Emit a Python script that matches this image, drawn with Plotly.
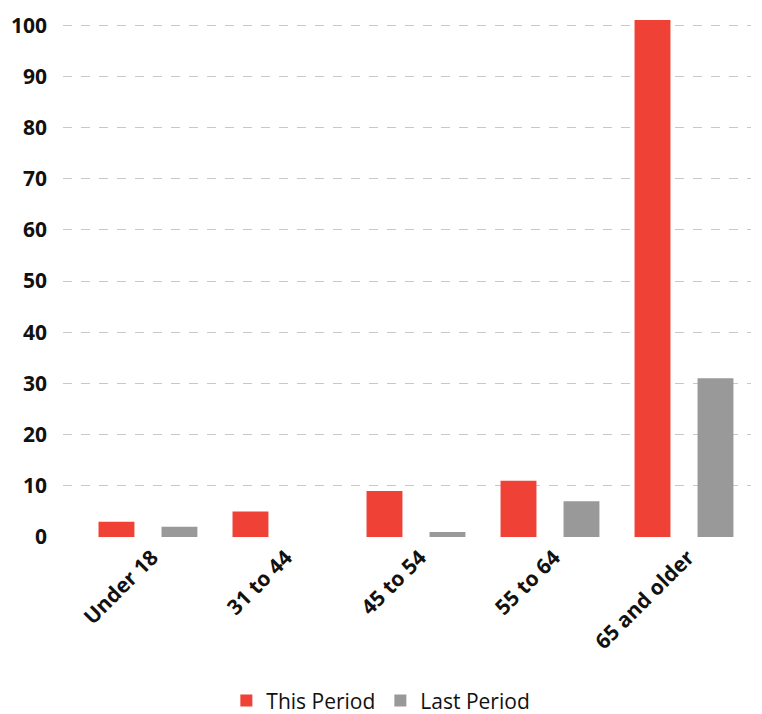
import plotly.graph_objects as go

categories = ["Under 18", "31 to 44", "45 to 54", "55 to 64", "65 and older"]
this_period = [3, 5, 9, 11, 101]
last_period = [2, 0, 1, 7, 31]
y_ticks = [0, 10, 20, 30, 40, 50, 60, 70, 80, 90, 100]

fig = go.Figure()
fig.add_trace(go.Bar(x=categories, y=this_period, name="This Period",
                     marker=dict(color="#EF4136", line=dict(width=0))))
fig.add_trace(go.Bar(x=categories, y=last_period, name="Last Period",
                     marker=dict(color="#999999", line=dict(width=0))))

# page body has an 8px default margin, so the figure is sized to fit the 762x714 window
fig.update_layout(
    width=754, height=706,
    margin=dict(l=55, r=11, t=7, b=177, autoexpand=False),
    plot_bgcolor="white", paper_bgcolor="white",
    barmode="group", bargap=0.06, bargroupgap=0.43,
    font=dict(family="Open Sans", color="#111111"),
    showlegend=True,
    legend=dict(orientation="h", x=0.462, xanchor="center", y=-0.314, yanchor="middle",
                font=dict(size=21, family="Open Sans", color="#111111"),
                itemsizing="constant"),
    xaxis=dict(type="category", range=[-0.634, 4.5], showgrid=False, showline=False,
               automargin=False, ticklabelshift=4, ticklabelstandoff=3,
               tickangle=-45, ticks="", tickfont=dict(size=21, family="Open Sans", weight="bold", color="#111111")),
    yaxis=dict(range=[0, 102], tickvals=y_ticks, showgrid=True, gridcolor="#C8C8C8",
               automargin=False,
               griddash="dash", gridwidth=1, zeroline=False, showline=False, ticks="",
               ticklabelstandoff=15,
               tickfont=dict(size=21, family="Open Sans", weight="bold", color="#111111")),
)

fig.write_html("out.html")
